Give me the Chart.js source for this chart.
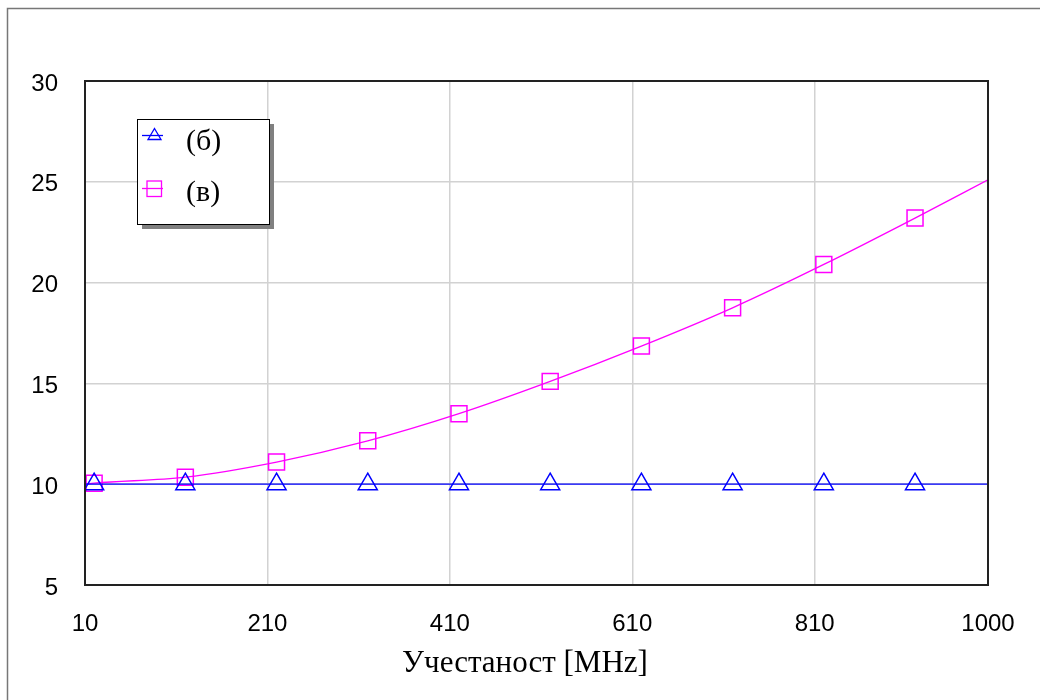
<!DOCTYPE html>
<html>
<head>
<meta charset="utf-8">
<script src="https://cdn.jsdelivr.net/npm/chart.js@4/dist/chart.umd.min.js"></script>
<style>
  html, body { margin: 0; padding: 0; background: #fff; }
  canvas { display: block; }
</style>
</head>
<body>
<canvas id="chart" width="1040" height="700"></canvas>
<script>
// podaci procitani sa slike
const frekvencije = [10, 20, 120, 220, 320, 420, 520, 620, 720, 820, 920, 1000];
const serijaB = [10, 10, 10, 10, 10, 10, 10, 10, 10, 10, 10, 10];
const serijaV = [10.0, 10.05, 10.35, 11.1, 12.15, 13.5, 15.1, 16.85, 18.75, 20.9, 23.2, 25.1];
const xTickovi = [10, 210, 410, 610, 810, 1000];
const legendaNazivi = ['(б)', '(в)'];
const naslovX = 'Учестаност [MHz]';

const PLAVA = '#0000ff';
const ROZA = '#ff00ff';

// markeri samo na unutrasnjim tackama, ne na krajevima
function radijus(r) {
  return ctx => (ctx.dataIndex === 0 || ctx.dataIndex === frekvencije.length - 1) ? 0 : r;
}

const tacke = vals => frekvencije.map((f, i) => ({ x: f, y: vals[i] }));

// okvir slike, okvir grafika, naslov ose i legenda
const okvirPlugin = {
  id: 'okvir',
  beforeDraw(chart) {
    const c = chart.ctx;
    c.save();
    c.fillStyle = '#fff';
    c.fillRect(0, 0, chart.width, chart.height);
    c.strokeStyle = '#777';
    c.lineWidth = 1.5;
    c.beginPath();
    c.moveTo(7.5, chart.height);
    c.lineTo(7.5, 8.5);
    c.lineTo(chart.width, 8.5);
    c.stroke();
    c.restore();
  },
  afterDraw(chart) {
    const c = chart.ctx;
    const a = chart.chartArea;
    c.save();
    c.strokeStyle = '#222';
    c.lineWidth = 2;
    c.strokeRect(a.left, a.top, a.right - a.left, a.bottom - a.top);

    // naslov x ose (malo levo od sredine, kao na slici)
    c.fillStyle = '#000';
    c.font = '31px "Liberation Serif", "Times New Roman", serif';
    c.textAlign = 'center';
    c.textBaseline = 'alphabetic';
    c.fillText(naslovX, 525, 672);

    // legenda sa senkom
    const lx = 137, ly = 119, lw = 132, lh = 105;
    c.fillStyle = '#808080';
    c.fillRect(lx + 5, ly + 5, lw, lh);
    c.fillStyle = '#fff';
    c.fillRect(lx, ly, lw, lh);
    c.strokeStyle = '#000';
    c.lineWidth = 1;
    c.strokeRect(lx + 0.5, ly + 0.5, lw, lh);

    // (б) trougao
    c.strokeStyle = PLAVA;
    c.lineWidth = 1.3;
    c.beginPath();
    c.moveTo(142, 135.5); c.lineTo(163, 135.5);
    c.stroke();
    c.beginPath();
    c.moveTo(154.5, 128.5); c.lineTo(161, 139.5); c.lineTo(148, 139.5); c.closePath();
    c.stroke();

    // (в) kvadrat
    c.strokeStyle = ROZA;
    c.beginPath();
    c.moveTo(142, 188.5); c.lineTo(163, 188.5);
    c.stroke();
    c.strokeRect(147, 181, 14.5, 15.5);

    c.fillStyle = '#000';
    c.font = '30px "Liberation Serif", "Times New Roman", serif';
    c.textAlign = 'left';
    c.fillText(legendaNazivi[0], 186, 150);
    c.fillText(legendaNazivi[1], 186, 201);
    c.restore();
  }
};

new Chart(document.getElementById('chart'), {
  type: 'line',
  data: {
    datasets: [
      {
        label: legendaNazivi[0],
        data: tacke(serijaB),
        borderColor: PLAVA,
        borderWidth: 1.3,
        pointStyle: 'triangle',
        pointRadius: radijus(11),
        pointBorderColor: PLAVA,
        pointBorderWidth: 1.5,
        pointBackgroundColor: 'rgba(0,0,0,0)',
        fill: false
      },
      {
        label: legendaNazivi[1],
        data: tacke(serijaV),
        borderColor: ROZA,
        borderWidth: 1.3,
        cubicInterpolationMode: 'monotone',
        pointStyle: 'rect',
        pointRadius: radijus(11.3),
        pointBorderColor: ROZA,
        pointBorderWidth: 1.5,
        pointBackgroundColor: 'rgba(0,0,0,0)',
        fill: false
      }
    ]
  },
  options: {
    responsive: false,
    animation: false,
    devicePixelRatio: 1,
    layout: { padding: { top: 81, right: 52, bottom: 0, left: 0 } },
    plugins: {
      legend: { display: false },
      tooltip: { enabled: false }
    },
    scales: {
      x: {
        type: 'linear',
        min: 10,
        max: 1000,
        afterBuildTicks: s => { s.ticks = xTickovi.map(v => ({ value: v })); },
        afterFit: s => { s.height = 115; s.paddingLeft = 0; s.paddingRight = 0; },
        border: { display: false },
        grid: { color: '#d2d2d2', lineWidth: 1.5, drawTicks: false },
        ticks: {
          padding: 25,
          maxRotation: 0,
          autoSkip: false,
          color: '#000',
          callback: v => String(v),
          font: { family: '"Liberation Sans", Arial, sans-serif', size: 24 }
        },
        title: { display: false }
      },
      y: {
        min: 5,
        max: 30,
        afterFit: s => { s.width = 85; },
        border: { display: false },
        grid: { color: '#d2d2d2', lineWidth: 1.5, drawTicks: false },
        ticks: {
          stepSize: 5,
          padding: 27,
          labelOffset: 3,
          color: '#000',
          font: { family: '"Liberation Sans", Arial, sans-serif', size: 24 }
        }
      }
    }
  },
  plugins: [okvirPlugin]
});
</script>
</body>
</html>
